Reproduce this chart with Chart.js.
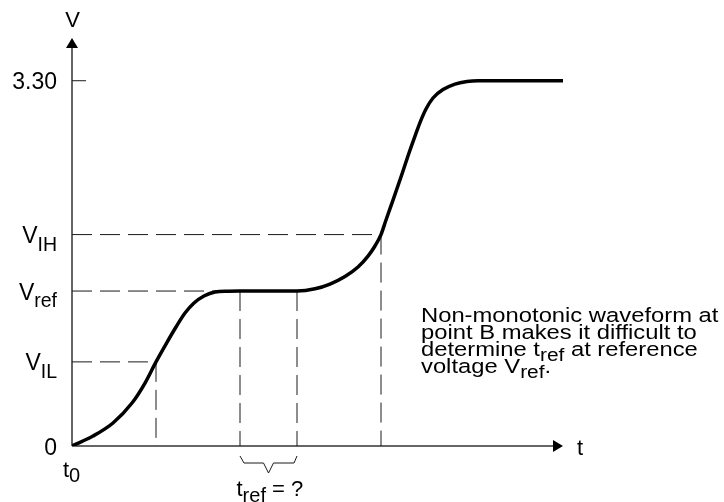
<!DOCTYPE html>
<html><head><meta charset="utf-8">
<script src="https://cdn.jsdelivr.net/npm/chart.js@4"></script>
<style>html,body{margin:0;padding:0;background:#fff}#wrap{width:724px;height:502px}</style>
</head><body><div id="wrap"><canvas id="c" width="724" height="502"></canvas></div>
<script>
// waveform samples (time in arbitrary units, voltage in V)
const timeValues    = [0, 21, 41, 60, 73, 84, 94, 104, 113, 122, 132, 143, 156, 168, 225, 243, 258, 273, 286, 296, 303, 309, 314, 321, 330, 337, 343, 348, 354, 361, 371, 383, 395, 406, 491];
const voltageValues = [0, 0.09, 0.208, 0.388, 0.569, 0.76, 0.921, 1.075, 1.201, 1.292, 1.355, 1.391, 1.398, 1.40, 1.40, 1.42, 1.463, 1.531, 1.617, 1.716, 1.807, 1.91, 2.042, 2.222, 2.457, 2.647, 2.80, 2.922, 3.044, 3.144, 3.22, 3.27, 3.293, 3.30, 3.30];
// reference levels and the times where the waveform crosses them
const levelNames  = ['3.30', 'V|IH', 'V|ref', 'V|IL', '0'];
const levelValues = [3.30, 1.91, 1.40, 0.76, 0];
const dashedLevels = [1.91, 1.40, 0.76];
const dashedLevelEnds = [309, 168, 84];
const crossTimes  = [84, 168, 225, 309];
const crossLevels = [0.76, 1.40, 1.40, 1.91];
const tRefSpan = [168, 225];
const T_MAX = 491, V_MAX = 3.686;
const annotationLines = [
  [['Non-monotonic waveform at', 0]],
  [['point B makes it difficult to', 0]],
  [['determine t', 0], ['ref', 1], [' at reference', 0]],
  [['voltage V', 0], ['ref', 1], ['.', 0]]
];

const FONT = '"Liberation Sans", Arial, Helvetica, sans-serif';
const DASH = [20, 8];
const INK = '#1a1a1a';

const datasets = [];
datasets.push({
  data: timeValues.map((t, i) => ({x: t, y: voltageValues[i]})),
  borderColor: '#000', borderWidth: 3.5, pointRadius: 0,
  cubicInterpolationMode: 'monotone', fill: false
});
dashedLevels.forEach((v, i) => {
  datasets.push({
    data: [{x: 0, y: v}, {x: dashedLevelEnds[i], y: v}],
    borderColor: INK, borderWidth: 1, borderDash: DASH, pointRadius: 0, fill: false
  });
});
crossTimes.forEach((t, i) => {
  datasets.push({
    data: [{x: t, y: crossLevels[i]}, {x: t, y: 0}],
    borderColor: INK, borderWidth: 1, borderDash: DASH, pointRadius: 0, fill: false
  });
});
// short tick at the 3.30 level
datasets.push({
  data: [{x: 0, y: levelValues[0]}, {x: 14, y: levelValues[0]}],
  borderColor: INK, borderWidth: 1, pointRadius: 0, fill: false
});

function drawRuns(ctx, x, y, runs, mainSize, subSize, subDy, align, sx) {
  sx = sx || 1;
  const fm = mainSize + 'px ' + FONT, fs = subSize + 'px ' + FONT;
  let w = 0;
  runs.forEach(r => { ctx.font = r[1] ? fs : fm; w += ctx.measureText(r[0]).width; });
  w *= sx;
  let cx = align === 'right' ? x - w : (align === 'center' ? x - w / 2 : x);
  ctx.save();
  ctx.translate(cx, 0); ctx.scale(sx, 1);
  let ox = 0;
  ctx.textAlign = 'left'; ctx.textBaseline = 'alphabetic';
  runs.forEach(r => {
    ctx.font = r[1] ? fs : fm;
    ctx.fillText(r[0], ox, r[1] ? y + subDy : y);
    ox += ctx.measureText(r[0]).width;
  });
  ctx.restore();
}

const decor = {
  id: 'decor',
  beforeDatasetsDraw(chart) {
    const ctx = chart.ctx, xs = chart.scales.x, ys = chart.scales.y;
    const x0 = xs.getPixelForValue(0), y0 = ys.getPixelForValue(0);
    const xEnd = xs.getPixelForValue(T_MAX), yTop = ys.getPixelForValue(V_MAX);
    ctx.save();
    ctx.strokeStyle = '#333'; ctx.lineWidth = 1.5; ctx.fillStyle = '#000';
    ctx.beginPath(); ctx.moveTo(x0, y0); ctx.lineTo(xEnd - 9, y0); ctx.stroke();
    ctx.beginPath(); ctx.moveTo(x0, y0); ctx.lineTo(x0, yTop + 9); ctx.stroke();
    // arrow heads
    ctx.beginPath(); ctx.moveTo(xEnd, y0); ctx.lineTo(xEnd - 10, y0 - 6); ctx.lineTo(xEnd - 10, y0 + 6); ctx.closePath(); ctx.fill();
    ctx.beginPath(); ctx.moveTo(x0, yTop); ctx.lineTo(x0 - 6, yTop + 10); ctx.lineTo(x0 + 6, yTop + 10); ctx.closePath(); ctx.fill();
    // brace under t_ref span
    const b1 = xs.getPixelForValue(tRefSpan[0]), b2 = xs.getPixelForValue(tRefSpan[1]);
    const bm = (b1 + b2) / 2;
    ctx.strokeStyle = INK; ctx.lineWidth = 1;
    ctx.beginPath();
    ctx.moveTo(b1, y0 + 10); ctx.lineTo(b1 + 4, y0 + 17); ctx.lineTo(bm - 5, y0 + 17);
    ctx.lineTo(bm, y0 + 27); ctx.lineTo(bm + 5, y0 + 17); ctx.lineTo(b2 - 3, y0 + 17); ctx.lineTo(b2, y0 + 10);
    ctx.stroke();
    ctx.restore();
  },
  afterDatasetsDraw(chart) {
    const ctx = chart.ctx, xs = chart.scales.x, ys = chart.scales.y;
    const x0 = xs.getPixelForValue(0), y0 = ys.getPixelForValue(0);
    ctx.save();
    ctx.fillStyle = '#000';
    levelNames.forEach((name, i) => {
      const py = ys.getPixelForValue(levelValues[i]);
      const parts = name.split('|');
      const runs = parts.length > 1 ? [[parts[0], 0], [parts[1], 1]] : [[parts[0], 0]];
      drawRuns(ctx, x0 - 15, py + 8.5, runs, 23, 19.5, 7.5, 'right');
    });
    // axis names
    drawRuns(ctx, x0 + 0.5, ys.getPixelForValue(V_MAX) - 11.5, [['V', 0]], 22, 19, 0, 'center');
    drawRuns(ctx, xs.getPixelForValue(T_MAX) + 14, y0 + 9, [['t', 0]], 22, 19, 0, 'left');
    drawRuns(ctx, x0 - 9, y0 + 31, [['t', 0], ['0', 1]], 22, 20, 5, 'left');
    const b1 = xs.getPixelForValue(tRefSpan[0]);
    drawRuns(ctx, b1 - 3.5, y0 + 50, [['t', 0], ['ref', 1], [' = ?', 0]], 22, 20, 6, 'left');
    // annotation
    annotationLines.forEach((runs, i) => {
      drawRuns(ctx, 421, 322 + i * 17, runs, 20.5, 18, 5, 'left', 1.16);
    });
    ctx.restore();
  }
};

new Chart(document.getElementById('c'), {
  type: 'line',
  data: { datasets },
  options: {
    responsive: false, animation: false, devicePixelRatio: 1,
    layout: { padding: { left: 72, right: 161, top: 38, bottom: 56 } },
    plugins: { legend: { display: false }, tooltip: { enabled: false } },
    elements: { line: { tension: 0 } },
    scales: {
      x: { type: 'linear', min: 0, max: T_MAX, display: false },
      y: { type: 'linear', min: 0, max: V_MAX, display: false }
    }
  },
  plugins: [decor]
});
</script></body></html>
